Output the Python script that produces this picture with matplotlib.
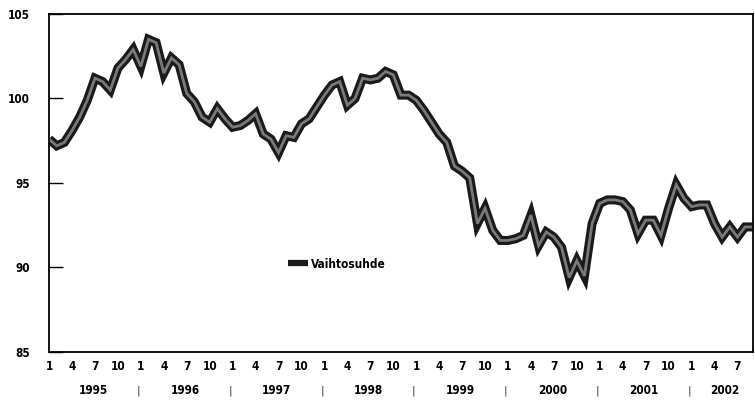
import numpy as np
import matplotlib
matplotlib.use("Agg")
import matplotlib.pyplot as plt
import matplotlib.transforms as mtransforms

# Vaihtosuhde, kuukausittain 1/1995 - 9/2002
years = [1995, 1996, 1997, 1998, 1999, 2000, 2001, 2002]
month_ticks = [1, 4, 7, 10]
y_ticks = [85, 90, 95, 100, 105]
series_name = "Vaihtosuhde"

v1995 = [97.6, 97.2, 97.4, 98.1, 98.9, 99.9, 101.2, 101.0, 100.5, 101.8, 102.3, 102.9]
v1996 = [101.9, 103.5, 103.3, 101.5, 102.4, 102.0, 100.3, 99.8, 98.9, 98.6, 99.4, 98.8]
v1997 = [98.3, 98.4, 98.7, 99.1, 97.9, 97.6, 96.8, 97.8, 97.7, 98.5, 98.8, 99.5]
v1998 = [100.2, 100.8, 101.0, 99.6, 100.0, 101.2, 101.1, 101.2, 101.6, 101.4, 100.2, 100.2]
v1999 = [99.9, 99.3, 98.6, 97.9, 97.4, 96.0, 95.7, 95.3, 92.6, 93.5, 92.2, 91.6]
v2000 = [91.6, 91.7, 91.9, 93.1, 91.3, 92.1, 91.8, 91.2, 89.4, 90.4, 89.5, 92.6]
v2001 = [93.8, 94.0, 94.0, 93.9, 93.4, 92.0, 92.8, 92.8, 91.9, 93.5, 94.9, 94.1]
v2002 = [93.6, 93.7, 93.7, 92.6, 91.8, 92.4, 91.8, 92.4, 92.4]

values = np.array(v1995 + v1996 + v1997 + v1998 + v1999 + v2000 + v2001 + v2002)
x = np.arange(len(values))

fig = plt.figure(figsize=(7.55, 4.0), dpi=100)
ax = fig.add_axes([0.065, 0.12, 0.932, 0.845])

# paksu tumma viiva, jonka sisällä vaaleampi harmaa
line, = ax.plot(x, values, color="#1a1a1a", lw=6.5, solid_joinstyle="miter",
                solid_capstyle="butt", label=series_name)
ax.plot(x, values, color="#9a9a9a", lw=2.0, alpha=0.75, solid_joinstyle="miter")

ax.set_xlim(0, len(values) - 1)
ax.set_ylim(85, 105)

font = dict(family="DejaVu Sans", stretch="condensed", weight="bold")

ax.set_yticks(y_ticks)
ax.set_yticklabels([str(t) for t in y_ticks], fontsize=8.5, **font)
ax.tick_params(axis="y", direction="in", length=10, width=1.0, pad=14, left=True)

# kuukausitikit
tick_pos = []
tick_lab = []
for k, yr in enumerate(years):
    for m in month_ticks:
        i = k * 12 + m - 1
        if i < len(values):
            tick_pos.append(i)
            tick_lab.append(str(m))
ax.set_xticks(tick_pos)
ax.set_xticklabels(tick_lab, fontsize=8.5, **font)
ax.tick_params(axis="x", length=0, pad=6)

# vuodet ja erottimet
trans = mtransforms.blended_transform_factory(ax.transData, ax.transAxes)
for k, yr in enumerate(years):
    start = k * 12
    end = min(start + 11, len(values) - 1)
    ax.text((start + end) / 2 + 0.3, -0.115, str(yr), transform=trans,
            ha="center", va="center", fontsize=8.5, **font)
    if k > 0:
        ax.text(start - 0.3, -0.115, "|", transform=trans, ha="center",
                va="center", fontsize=8, color="#333333")

for s in ax.spines.values():
    s.set_linewidth(1.3)
    s.set_color("black")

leg = ax.legend(handles=[line], loc="center left", bbox_to_anchor=(0.325, 0.26),
                frameon=False, handlelength=1.7, handletextpad=0.25,
                prop=dict(size=8.5, **font))
leg.get_lines()[0].set_linewidth(4.5)

fig.savefig("out.png", dpi=100, facecolor="white")
